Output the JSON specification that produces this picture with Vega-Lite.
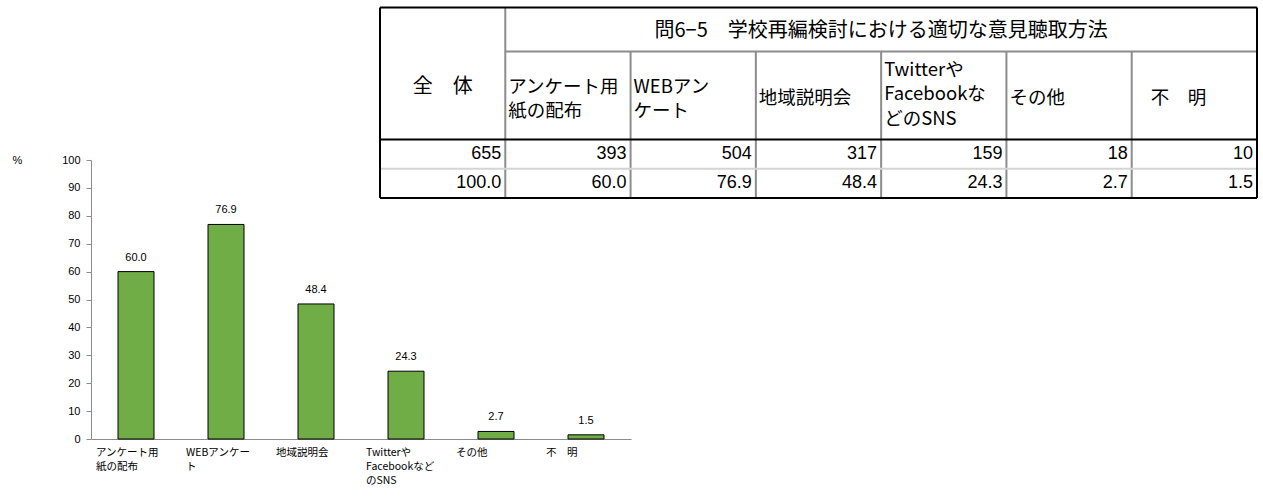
{
  "$schema": "https://vega.github.io/schema/vega-lite/v6.json",
  "width": 540,
  "height": 279,
  "autosize": {"type": "none"},
  "padding": {"left": 91, "top": 160, "right": 632, "bottom": 62},
  "background": "white",
  "config": {"view": {"stroke": null}, "font": "Noto Sans CJK JP"},
  "datasets": {
    "bars": [
      {"cat": "アンケート用|紙の配布", "pct": 60.0},
      {"cat": "WEBアンケー|ト", "pct": 76.9},
      {"cat": "地域説明会", "pct": 48.4},
      {"cat": "Twitterや|Facebookなど|のSNS", "pct": 24.3},
      {"cat": "その他", "pct": 2.7},
      {"cat": "不　明", "pct": 1.5}
    ],
    "lines": [
      {"x": 1, "x2": 7, "y": 1.5, "y2": 1.5, "kind": "inner"},
      {"x": 1, "x2": 1, "y": 0, "y2": 6.5, "kind": "inner"},
      {"x": 2, "x2": 2, "y": 1.5, "y2": 6.5, "kind": "inner"},
      {"x": 3, "x2": 3, "y": 1.5, "y2": 6.5, "kind": "inner"},
      {"x": 4, "x2": 4, "y": 1.5, "y2": 6.5, "kind": "inner"},
      {"x": 5, "x2": 5, "y": 1.5, "y2": 6.5, "kind": "inner"},
      {"x": 6, "x2": 6, "y": 1.5, "y2": 6.5, "kind": "inner"},
      {"x": 0, "x2": 7, "y": 5.5, "y2": 5.5, "kind": "light"},
      {"x": 0, "x2": 7, "y": 0, "y2": 0, "kind": "outer"},
      {"x": 0, "x2": 7, "y": 6.5, "y2": 6.5, "kind": "outer"},
      {"x": 0, "x2": 0, "y": 0, "y2": 6.5, "kind": "outer"},
      {"x": 7, "x2": 7, "y": 0, "y2": 6.5, "kind": "outer"},
      {"x": 0, "x2": 7, "y": 4.5, "y2": 4.5, "kind": "outer"}
    ],
    "centered": [
      {"x": 4, "y": 0.8, "t": "問6−5　学校再編検討における適切な意見聴取方法"},
      {"x": 0.5, "y": 2.7, "t": "全　体"}
    ],
    "heads": [
      {"x": 1, "y": 2.7, "t": "アンケート用\n紙の配布"},
      {"x": 2, "y": 2.7, "t": "WEBアン\nケート"},
      {"x": 3, "y": 3.1, "t": "地域説明会"},
      {"x": 4, "y": 2.13, "t": "Twitterや\nFacebookな\nどのSNS"},
      {"x": 5, "y": 3.1, "t": "その他"}
    ],
    "heads2": [
      {"x": 6, "y": 3.1, "t": "不　明"}
    ],
    "cells": [
      {"x": 1, "y": 5, "t": "655"},
      {"x": 2, "y": 5, "t": "393"},
      {"x": 3, "y": 5, "t": "504"},
      {"x": 4, "y": 5, "t": "317"},
      {"x": 5, "y": 5, "t": "159"},
      {"x": 6, "y": 5, "t": "18"},
      {"x": 7, "y": 5, "t": "10"},
      {"x": 1, "y": 6, "t": "100.0"},
      {"x": 2, "y": 6, "t": "60.0"},
      {"x": 3, "y": 6, "t": "76.9"},
      {"x": 4, "y": 6, "t": "48.4"},
      {"x": 5, "y": 6, "t": "24.3"},
      {"x": 6, "y": 6, "t": "2.7"},
      {"x": 7, "y": 6, "t": "1.5"}
    ]
  },
  "resolve": {"scale": {"x": "independent", "y": "independent"}, "axis": {"x": "independent", "y": "independent"}},
  "layer": [
    {
      "data": {"name": "bars"},
      "encoding": {
        "x": {
          "field": "cat", "type": "nominal", "sort": null,
          "scale": {"paddingInner": 0.6, "paddingOuter": 0.3},
          "axis": {
            "title": null, "ticks": false, "domainColor": "#8c8c8c", "domainWidth": 1,
            "labelAngle": 0, "labelAlign": "left", "labelBaseline": "top", "labelOffset": -40,
            "labelPadding": 8, "labelExpr": "split(datum.label, '|')", "labelLineHeight": 14,
            "labelFontSize": 10.5, "labelColor": "#000000", "labelOverlap": false,
            "labelFont": "Noto Sans CJK JP",
            "encode": {"labels": {"update": {"dx": {"signal": "datum.value === '不　明' ? 8 : 0"}}}}
          }
        },
        "y": {
          "field": "pct", "type": "quantitative",
          "scale": {"domain": [0, 100], "nice": false},
          "axis": {
            "values": [0, 10, 20, 30, 40, 50, 60, 70, 80, 90, 100],
            "grid": false, "domainColor": "#8c8c8c", "tickColor": "#8c8c8c", "tickSize": 5,
            "labelFontSize": 11, "labelColor": "#000000", "labelFont": "Liberation Sans", "labelPadding": 6,
            "title": "%", "titleAngle": 0, "titleX": -79, "titleY": 0, "titleAlign": "left",
            "titleBaseline": "middle", "titleFontWeight": "normal", "titleFontSize": 11,
            "titleFont": "Liberation Sans", "titleColor": "#000000"
          }
        }
      },
      "layer": [
        {"mark": {"type": "bar", "fill": "#70AD47", "stroke": "#000000", "strokeWidth": 1}},
        {
          "mark": {"type": "text", "baseline": "bottom", "dy": -9, "fontSize": 11, "font": "Liberation Sans", "color": "#000000"},
          "encoding": {"text": {"field": "pct", "type": "quantitative", "format": ".1f"}}
        }
      ]
    },
    {
      "layer": [
        {
          "data": {"name": "lines"},
          "transform": [{"filter": "datum.kind === 'inner'"}],
          "mark": {"type": "rule", "stroke": "#8c8c8c", "strokeWidth": 2},
          "encoding": {
            "x": {"field": "x", "type": "quantitative", "scale": {"domain": [0, 7], "range": [289, 1166], "nice": false, "zero": false}, "axis": null},
            "x2": {"field": "x2"},
            "y": {"field": "y", "type": "quantitative", "scale": {"domain": [0, 6.5], "range": [-152.5, 38], "nice": false, "zero": false}, "axis": null},
            "y2": {"field": "y2"}
          }
        },
        {
          "data": {"name": "lines"},
          "transform": [{"filter": "datum.kind === 'light'"}],
          "mark": {"type": "rule", "stroke": "#d4d4d4", "strokeWidth": 2},
          "encoding": {
            "x": {"field": "x", "type": "quantitative", "axis": null},
            "x2": {"field": "x2"},
            "y": {"field": "y", "type": "quantitative", "axis": null},
            "y2": {"field": "y2"}
          }
        },
        {
          "data": {"name": "lines"},
          "transform": [{"filter": "datum.kind === 'outer'"}],
          "mark": {"type": "rule", "stroke": "#000000", "strokeWidth": 2},
          "encoding": {
            "x": {"field": "x", "type": "quantitative", "axis": null},
            "x2": {"field": "x2"},
            "y": {"field": "y", "type": "quantitative", "axis": null},
            "y2": {"field": "y2"}
          }
        },
        {
          "data": {"name": "centered"},
          "mark": {"type": "text", "align": "center", "baseline": "middle", "fontSize": 20, "color": "#000000"},
          "encoding": {
            "x": {"field": "x", "type": "quantitative", "axis": null},
            "y": {"field": "y", "type": "quantitative", "axis": null},
            "text": {"field": "t"}
          }
        },
        {
          "data": {"name": "heads"},
          "mark": {"type": "text", "align": "left", "baseline": "middle", "fontSize": 18.5, "lineHeight": 24.5, "lineBreak": "\n", "dx": 3, "color": "#000000"},
          "encoding": {
            "x": {"field": "x", "type": "quantitative", "axis": null},
            "y": {"field": "y", "type": "quantitative", "axis": null},
            "text": {"field": "t"}
          }
        },
        {
          "data": {"name": "heads2"},
          "mark": {"type": "text", "align": "left", "baseline": "middle", "fontSize": 18.5, "dx": 19, "color": "#000000"},
          "encoding": {
            "x": {"field": "x", "type": "quantitative", "axis": null},
            "y": {"field": "y", "type": "quantitative", "axis": null},
            "text": {"field": "t"}
          }
        },
        {
          "data": {"name": "cells"},
          "mark": {"type": "text", "align": "right", "baseline": "middle", "fontSize": 18, "dx": -4, "font": "Liberation Sans", "color": "#000000"},
          "encoding": {
            "x": {"field": "x", "type": "quantitative", "axis": null},
            "y": {"field": "y", "type": "quantitative", "axis": null},
            "text": {"field": "t"}
          }
        }
      ]
    }
  ]
}
